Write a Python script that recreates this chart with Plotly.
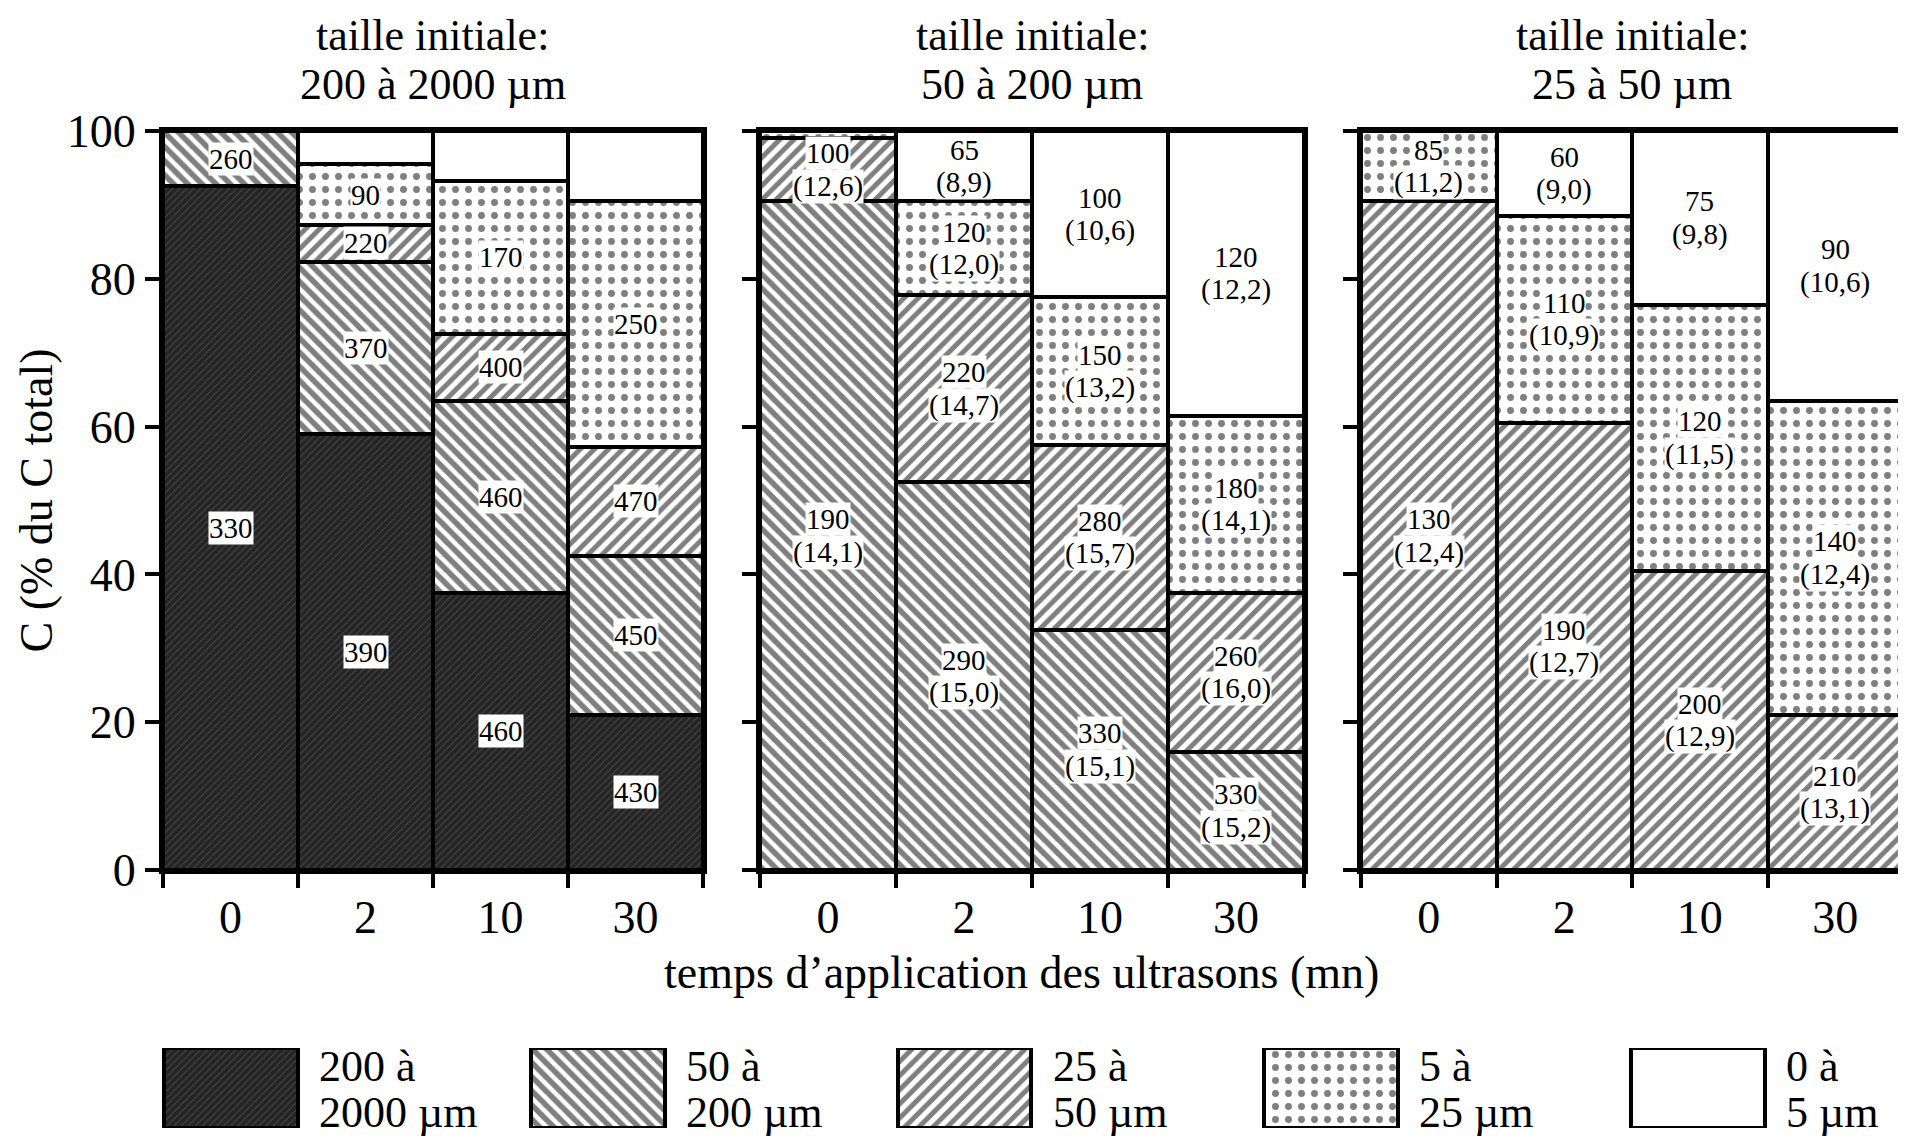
import plotly.graph_objects as go

# ---------------- data ----------------
times = ["0", "2", "10", "30"]
fraction_names = ["200 à 2000 µm", "50 à 200 µm", "25 à 50 µm", "5 à 25 µm", "0 à 5 µm"]
legend_line1 = ["200 à", "50 à", "25 à", "5 à", "0 à"]
legend_line2 = ["2000 µm", "200 µm", "50 µm", "25 µm", "5 µm"]
title_line1 = ["taille initiale:", "taille initiale:", "taille initiale:"]
title_line2 = ["200 à 2000 µm", "50 à 200 µm", "25 à 50 µm"]
y_ticks = [0, 20, 40, 60, 80, 100]

# panel 1 : initial size 200-2000 µm  (% of total C)
p1_200_2000 = [92.5, 59.0, 37.5, 21.0]
p1_50_200 = [7.5, 23.3, 26.0, 21.5]
p1_25_50 = [0.0, 5.0, 9.0, 14.8]
p1_5_25 = [0.0, 8.2, 20.8, 33.2]
p1_0_5 = [0.0, 4.5, 6.7, 9.5]
p1_lab_200_2000 = ["330", "390", "460", "430"]
p1_lab_50_200 = ["260", "370", "460", "450"]
p1_lab_25_50 = ["", "220", "400", "470"]
p1_lab_5_25 = ["", "90", "170", "250"]
p1_lab_0_5 = ["", "", "", ""]

# panel 2 : initial size 50-200 µm
p2_200_2000 = [0.0, 0.0, 0.0, 0.0]
p2_50_200 = [90.5, 52.5, 32.5, 16.0]
p2_25_50 = [8.5, 25.3, 25.0, 21.5]
p2_5_25 = [1.0, 12.7, 20.0, 24.0]
p2_0_5 = [0.0, 9.5, 22.5, 38.5]
p2_lab_200_2000 = ["", "", "", ""]
p2_lab_50_200 = ["190<br>(14,1)", "290<br>(15,0)", "330<br>(15,1)", "330<br>(15,2)"]
p2_lab_25_50 = ["100<br>(12,6)", "220<br>(14,7)", "280<br>(15,7)", "260<br>(16,0)"]
p2_lab_5_25 = ["", "120<br>(12,0)", "150<br>(13,2)", "180<br>(14,1)"]
p2_lab_0_5 = ["", "65<br>(8,9)", "100<br>(10,6)", "120<br>(12,2)"]

# panel 3 : initial size 25-50 µm
p3_200_2000 = [0.0, 0.0, 0.0, 0.0]
p3_50_200 = [0.0, 0.0, 0.0, 0.0]
p3_25_50 = [90.5, 60.5, 40.5, 21.0]
p3_5_25 = [9.5, 28.0, 36.0, 42.5]
p3_0_5 = [0.0, 11.5, 23.5, 36.5]
p3_lab_200_2000 = ["", "", "", ""]
p3_lab_50_200 = ["", "", "", ""]
p3_lab_25_50 = ["130<br>(12,4)", "190<br>(12,7)", "200<br>(12,9)", "210<br>(13,1)"]
p3_lab_5_25 = ["85<br>(11,2)", "110<br>(10,9)", "120<br>(11,5)", "140<br>(12,4)"]
p3_lab_0_5 = ["", "60<br>(9,0)", "75<br>(9,8)", "90<br>(10,6)"]

panels_vals = [
    [p1_200_2000, p1_50_200, p1_25_50, p1_5_25, p1_0_5],
    [p2_200_2000, p2_50_200, p2_25_50, p2_5_25, p2_0_5],
    [p3_200_2000, p3_50_200, p3_25_50, p3_5_25, p3_0_5],
]
panels_labs = [
    [p1_lab_200_2000, p1_lab_50_200, p1_lab_25_50, p1_lab_5_25, p1_lab_0_5],
    [p2_lab_200_2000, p2_lab_50_200, p2_lab_25_50, p2_lab_5_25, p2_lab_0_5],
    [p3_lab_200_2000, p3_lab_50_200, p3_lab_25_50, p3_lab_5_25, p3_lab_0_5],
]

# ---------------- styles ----------------
W, H = 1906, 1136
OFF = 8  # page body margin in the browser
FONT = "Liberation Serif"
patterns = [
    dict(shape="/", fgcolor="black", bgcolor="#4a4a4a", size=5, solidity=0.8),
    dict(shape="\\", fgcolor="black", bgcolor="white", size=10, solidity=0.55),
    dict(shape="/", fgcolor="black", bgcolor="white", size=10, solidity=0.5),
    dict(shape=".", fgcolor="black", bgcolor="white", size=13, solidity=0.22),
    dict(shape="", fgcolor="black", bgcolor="white"),
]
LINE_W = 4
LAB_SIZE = 29
LAB_LINE = 33  # px between the two lines of a bar label
LEG_STEP = 366.75  # px between legend boxes


def px_x(p):
    return (p - OFF) / W


def px_y(p):
    return 1 - (p - OFF) / H


x_domains = [[px_x(163), px_x(703)], [px_x(760), px_x(1304)], [px_x(1361), px_x(1903)]]
y_domain = [px_y(870), px_y(131)]

fig = go.Figure()
annotations = []

for p in range(3):
    ax = "" if p == 0 else str(p + 1)
    cum = [0.0] * len(times)
    for f in range(5):
        vals = panels_vals[p][f]
        if not any(v > 0 for v in vals):
            continue
        yv = [v if v > 0 else None for v in vals]
        fig.add_trace(go.Bar(
            x=times, y=yv, name=fraction_names[f],
            marker=dict(color="white", pattern=patterns[f],
                        line=dict(color="black", width=LINE_W)),
            xaxis="x" + ax, yaxis="y" + ax, showlegend=False,
            hoverinfo="skip"))
        for i, t in enumerate(times):
            lab = panels_labs[p][f][i]
            if vals[i] > 0 and lab:
                parts = lab.split("<br>")
                n = len(parts)
                for k, part in enumerate(parts):
                    annotations.append(dict(
                        x=i, y=cum[i] + vals[i] / 2, xref="x" + ax, yref="y" + ax,
                        xanchor="center", yanchor="middle",
                        yshift=((n - 1) / 2 - k) * LAB_LINE,
                        text=part, showarrow=False, bgcolor="white", borderpad=0,
                        font=dict(family=FONT, size=LAB_SIZE, color="black")))
            cum[i] += vals[i]
    # panel title (two lines)
    xc = (x_domains[p][0] + x_domains[p][1]) / 2
    for txt, ypx in ((title_line1[p], 36), (title_line2[p], 84)):
        annotations.append(dict(
            x=xc, y=px_y(ypx), xref="paper", yref="paper",
            xanchor="center", yanchor="middle", text=txt, showarrow=False,
            font=dict(family=FONT, size=44, color="black")))

axis_common = dict(showline=True, linecolor="black", linewidth=LINE_W,
                   mirror=True, ticks="outside", tickcolor="black",
                   tickwidth=LINE_W, ticklen=14, showgrid=False, zeroline=False,
                   automargin=False,
                   tickfont=dict(family=FONT, size=46, color="black"))

layout = dict(
    width=W, height=H, margin=dict(l=0, r=0, t=0, b=0, pad=0, autoexpand=False),
    paper_bgcolor="white", plot_bgcolor="white",
    barmode="stack", bargap=0, showlegend=False,
    font=dict(family=FONT, color="black"),
)
for p in range(3):
    sfx = "" if p == 0 else str(p + 1)
    layout["xaxis" + sfx] = dict(axis_common, domain=x_domains[p], type="category",
                                 categoryorder="array", categoryarray=times,
                                 range=[-0.5, len(times) - 0.5], autorange=False,
                                 tickson="boundaries", anchor="y" + sfx,
                                 tickangle=0, ticklabelstandoff=4, fixedrange=True)
    layout["yaxis" + sfx] = dict(axis_common, domain=y_domain, range=[0, 100],
                                 autorange=False, tickvals=y_ticks, anchor="x" + sfx,
                                 showticklabels=(p == 0), fixedrange=True)

# ---------------- legend as its own small axes ----------------
leg_idx = list(range(len(fraction_names)))
for f in leg_idx:
    fig.add_trace(go.Bar(
        x=[f], y=[1], width=0.365, name=fraction_names[f],
        marker=dict(color="white", pattern=patterns[f],
                    line=dict(color="black", width=LINE_W)),
        xaxis="x4", yaxis="y4", showlegend=False, hoverinfo="skip"))
    annotations.append(dict(
        x=f + 0.235, y=0.77, xref="x4", yref="y4", xanchor="left", yanchor="middle",
        text=legend_line1[f], showarrow=False, align="left",
        font=dict(family=FONT, size=44, color="black")))
    annotations.append(dict(
        x=f + 0.235, y=0.2, xref="x4", yref="y4", xanchor="left", yanchor="middle",
        text=legend_line2[f], showarrow=False, align="left",
        font=dict(family=FONT, size=44, color="black")))

leg_x0 = (231 - OFF) / LEG_STEP
layout["xaxis4"] = dict(domain=[0, 1], range=[-leg_x0, W / LEG_STEP - leg_x0],
                        autorange=False, visible=False, fixedrange=True,
                        anchor="y4", automargin=False)
layout["yaxis4"] = dict(domain=[px_y(1128), px_y(1048)], range=[0, 1], autorange=False,
                        visible=False, fixedrange=True, anchor="x4", automargin=False)

# axis titles
annotations.append(dict(
    x=px_x(1021), y=px_y(972), xref="paper", yref="paper",
    xanchor="center", yanchor="middle",
    text="temps d’application des ultrasons (mn)", showarrow=False,
    font=dict(family=FONT, size=46, color="black")))
annotations.append(dict(
    x=px_x(36), y=(y_domain[0] + y_domain[1]) / 2, xref="paper", yref="paper",
    xanchor="center", yanchor="middle",
    text="C (% du C total)", textangle=-90, showarrow=False,
    font=dict(family=FONT, size=46, color="black")))

layout["annotations"] = annotations
fig.update_layout(**layout)
fig.write_html("out.html")
